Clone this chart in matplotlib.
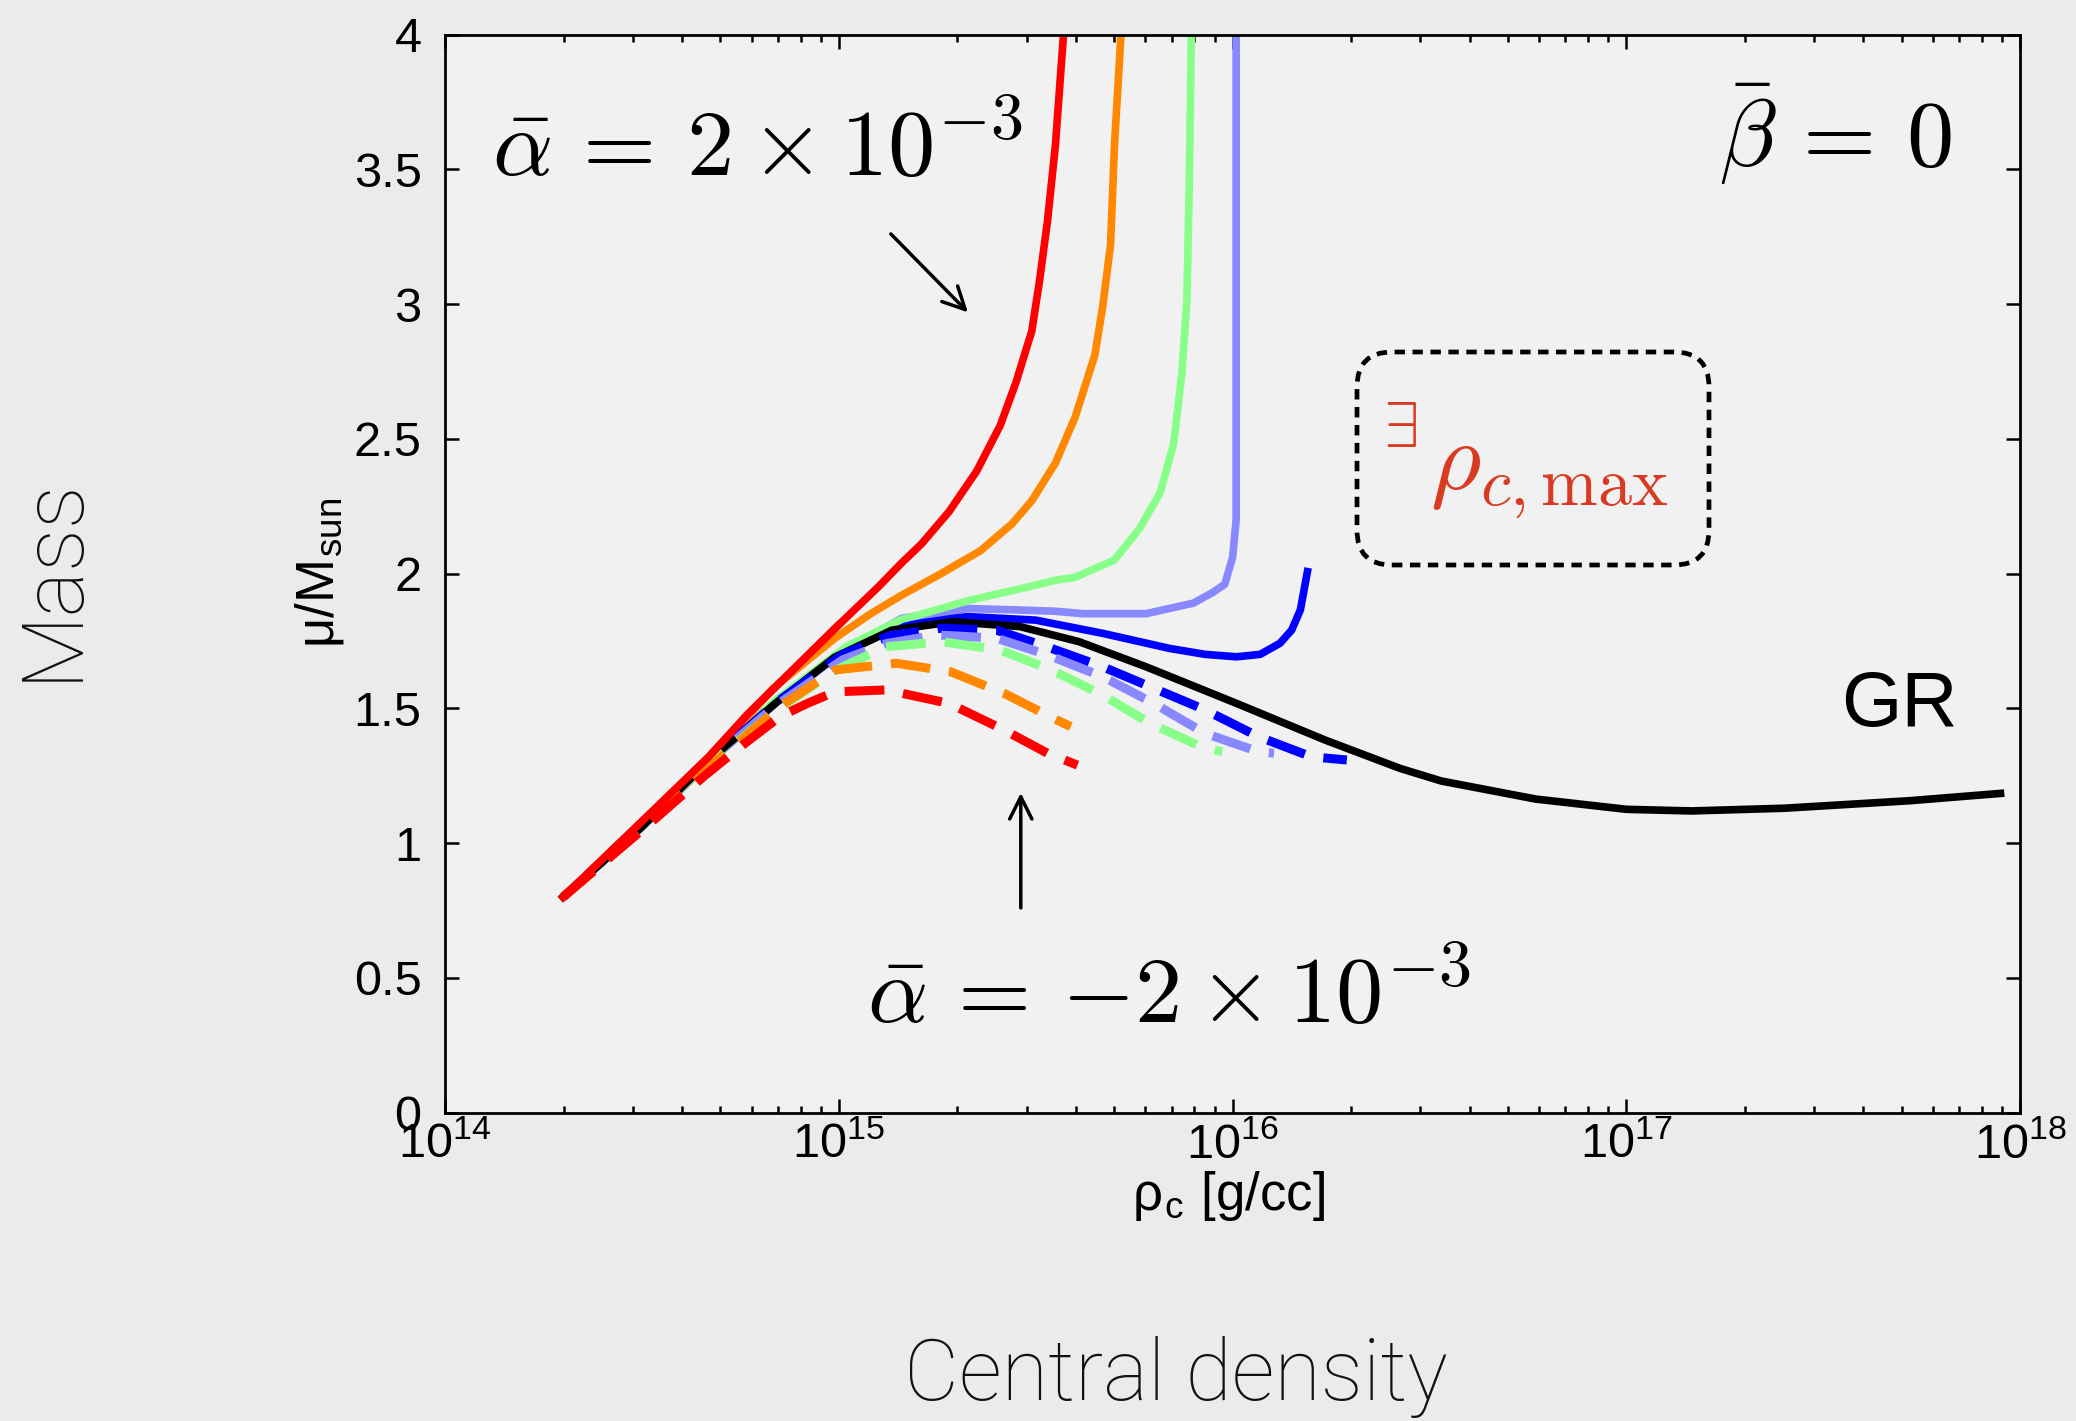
import matplotlib.pyplot as plt
import numpy as np
from matplotlib.patches import FancyBboxPatch
from matplotlib.ticker import FixedLocator, FormatStrFormatter

plt.rcParams['font.family'] = ['Liberation Sans', 'DejaVu Sans']
plt.rcParams['mathtext.fontset'] = 'cm'

# log10 of central density [g/cc] and mass for each curve
# solid: alpha_bar > 0 (red = 2e-3 ... blue smallest), black = GR
red_x = [14.30, 14.50, 14.67, 14.77, 15.00, 15.10, 15.16, 15.21, 15.28, 15.35, 15.41, 15.45, 15.49, 15.51, 15.53, 15.55, 15.57, 15.575]
red_y = [0.80, 1.08, 1.32, 1.48, 1.81, 1.95, 2.04, 2.11, 2.23, 2.38, 2.55, 2.71, 2.90, 3.09, 3.31, 3.59, 3.99, 4.20]
orange_x = [14.30, 14.50, 14.67, 14.83, 14.99, 15.08, 15.16, 15.26, 15.36, 15.44, 15.49, 15.55, 15.60, 15.65, 15.67, 15.69, 15.70, 15.716, 15.72]
orange_y = [0.80, 1.07, 1.30, 1.57, 1.76, 1.85, 1.92, 2.00, 2.085, 2.185, 2.27, 2.41, 2.58, 2.81, 2.99, 3.22, 3.59, 3.99, 4.20]
green_x = [14.30, 14.50, 14.67, 14.84, 15.02, 15.16, 15.20, 15.33, 15.48, 15.55, 15.60, 15.70, 15.765, 15.816, 15.85, 15.871, 15.884, 15.89, 15.895, 15.897]
green_y = [0.80, 1.06, 1.30, 1.53, 1.73, 1.83, 1.845, 1.90, 1.95, 1.975, 1.986, 2.05, 2.17, 2.30, 2.48, 2.74, 3.02, 3.45, 3.99, 4.20]
lblue_x = [14.30, 14.50, 14.67, 14.84, 15.01, 15.16, 15.28, 15.33, 15.45, 15.55, 15.62, 15.78, 15.90, 15.95, 15.98, 16.00, 16.009, 16.009]
lblue_y = [0.80, 1.06, 1.30, 1.52, 1.71, 1.834, 1.86, 1.87, 1.865, 1.86, 1.851, 1.851, 1.89, 1.93, 1.96, 2.06, 2.20, 4.20]
blue_x = [14.30, 14.50, 14.67, 14.84, 15.01, 15.10, 15.21, 15.33, 15.50, 15.67, 15.84, 15.93, 16.01, 16.07, 16.12, 16.15, 16.172, 16.19]
blue_y = [0.80, 1.06, 1.30, 1.52, 1.71, 1.78, 1.827, 1.84, 1.827, 1.778, 1.722, 1.70, 1.691, 1.70, 1.741, 1.79, 1.865, 2.007]
gr_x = [14.30, 14.50, 14.665, 14.84, 14.99, 15.135, 15.29, 15.46, 15.61, 15.78, 16.01, 16.235, 16.425, 16.53, 16.77, 17.00, 17.165, 17.40, 17.72, 17.95]
gr_y = [0.80, 1.06, 1.30, 1.52, 1.69, 1.79, 1.821, 1.803, 1.747, 1.654, 1.518, 1.382, 1.277, 1.23, 1.163, 1.125, 1.119, 1.129, 1.157, 1.184]

# dashed: alpha_bar < 0
blue_d_x = [14.30, 14.50, 14.67, 14.84, 15.01, 15.13, 15.26, 15.40, 15.54, 15.67, 15.80, 15.93, 16.065, 16.20, 16.29]
blue_d_y = [0.80, 1.06, 1.30, 1.52, 1.70, 1.77, 1.797, 1.79, 1.722, 1.654, 1.574, 1.494, 1.395, 1.32, 1.308]
lblue_d_x = [14.30, 14.50, 14.67, 14.84, 15.01, 15.12, 15.25, 15.40, 15.53, 15.67, 15.80, 15.93, 16.065, 16.105]
lblue_d_y = [0.80, 1.06, 1.30, 1.51, 1.68, 1.74, 1.772, 1.76, 1.698, 1.617, 1.518, 1.407, 1.339, 1.333]
green_d_x = [14.30, 14.50, 14.67, 14.84, 14.99, 15.12, 15.26, 15.41, 15.54, 15.67, 15.79, 15.93, 15.974]
green_d_y = [0.80, 1.06, 1.29, 1.49, 1.64, 1.728, 1.747, 1.716, 1.642, 1.549, 1.444, 1.351, 1.339]
orange_d_x = [14.30, 14.50, 14.67, 14.85, 14.99, 15.146, 15.283, 15.42, 15.554, 15.589]
orange_d_y = [0.80, 1.05, 1.28, 1.506, 1.642, 1.667, 1.636, 1.555, 1.456, 1.432]
red_d_x = [14.30, 14.54, 14.656, 14.75, 14.85, 14.92, 14.99, 15.12, 15.28, 15.42, 15.53, 15.606]
red_d_y = [0.80, 1.098, 1.246, 1.357, 1.469, 1.518, 1.561, 1.568, 1.518, 1.419, 1.333, 1.289]

y_ticks = [0, 0.5, 1, 1.5, 2, 2.5, 3, 3.5, 4]

fig = plt.figure(figsize=(20.76, 14.21), dpi=100, facecolor='#ebebeb')
ax = fig.add_axes([0.2144, 0.2171, 0.7587, 0.7586], facecolor='#f1f1f1')

solid = [(red_x, red_y, '#ff0000'), (orange_x, orange_y, '#ff8800'),
         (green_x, green_y, '#88ff88'), (lblue_x, lblue_y, '#8888ff'),
         (blue_x, blue_y, '#0000ff')]
dashed = [(blue_d_x, blue_d_y, '#0000ff'), (lblue_d_x, lblue_d_y, '#8888ff'),
          (green_d_x, green_d_y, '#88ff88'), (orange_d_x, orange_d_y, '#ff8800'),
          (red_d_x, red_d_y, '#ff0000')]

for xs, ys, c in solid[::-1]:
    ax.plot(10 ** np.array(xs), ys, color=c, lw=5.5, solid_joinstyle='round')
ax.plot(10 ** np.array(gr_x), gr_y, color='k', lw=5.5, solid_joinstyle='round')
for xs, ys, c in dashed:
    ax.plot(10 ** np.array(xs), ys, color=c, lw=6.5, dashes=(4.4, 2.1), dash_capstyle='butt')
# red solid stays on top at low density
ax.plot(10 ** np.array(red_x[:5]), red_y[:5], color='#ff0000', lw=5.5)

ax.set_xscale('log')
ax.set_xlim(1e14, 1e18)
ax.set_ylim(0, 4)
ax.yaxis.set_major_locator(FixedLocator(y_ticks))
ax.yaxis.set_major_formatter(FormatStrFormatter('%g'))
ax.tick_params(which='both', direction='in', top=True, right=True, labelsize=35, width=1.8)
ax.tick_params(which='major', length=10)
ax.tick_params(which='minor', length=5)
ax.tick_params(axis='y', pad=17)
ax.tick_params(axis='x', pad=7)
for s in ax.spines.values():
    s.set_linewidth(2)

fig.text(1229 / 2076, 1 - 1196 / 1421, r'ρ$_\mathregular{c}$ [g/cc]', fontsize=38, ha='center', va='center')
fig.text(320 / 2076, 1 - 573 / 1421, r'μ/M$_\mathregular{sun}$', fontsize=38, rotation=90, ha='center', va='center')

thin = dict(family=['Roboto', 'Open Sans', 'DejaVu Sans'], weight='light', color='#111111')
fig.text(1176 / 2076, 1 - 1377 / 1421, 'Central density', fontsize=61, ha='center', va='center', **thin)
fig.text(52 / 2076, 1 - 579 / 1421, 'Mass', fontsize=62, rotation=90, ha='center', va='center', **thin)

ax.text(10 ** 14.119, 3.475, r'$\bar{\alpha}\,=\,2\times10^{-3}$', fontsize=68, ha='left', va='baseline')
ax.text(10 ** 17.236, 3.51, r'$\bar{\beta}\,=\,0$', fontsize=68, ha='left', va='baseline')
ax.text(10 ** 15.072, 0.33, r'$\bar{\alpha}\,=\,{-2}\times10^{-3}$', fontsize=68, ha='left', va='baseline')
ax.text(10 ** 17.84, 1.434, 'GR', fontsize=56, ha='right', va='baseline')
ax.text(10 ** 16.382, 2.469, r'$\exists$', fontsize=46, color='#d83a22', ha='left', va='baseline')
ax.text(10 ** 16.50, 2.313, r'$\rho_{c,\mathrm{max}}$', fontsize=70, color='#d83a22', ha='left', va='baseline')

ax.annotate('', xy=(10 ** 15.328, 2.969), xytext=(10 ** 15.132, 3.26),
            arrowprops=dict(arrowstyle='->', lw=2.5, color='k', mutation_scale=40, shrinkA=0, shrinkB=0))
ax.annotate('', xy=(10 ** 15.462, 1.186), xytext=(10 ** 15.462, 0.759),
            arrowprops=dict(arrowstyle='->', lw=2.5, color='k', mutation_scale=40, shrinkA=0, shrinkB=0))

box = FancyBboxPatch((13.57, 8.56), 3.52, 2.13, boxstyle='round,pad=0,rounding_size=0.35',
                     transform=fig.dpi_scale_trans, fill=False, lw=3.4, ls=(0, (2.2, 1.6)), ec='k')
fig.add_artist(box)

fig.savefig('out.png', dpi=100, facecolor=fig.get_facecolor())
